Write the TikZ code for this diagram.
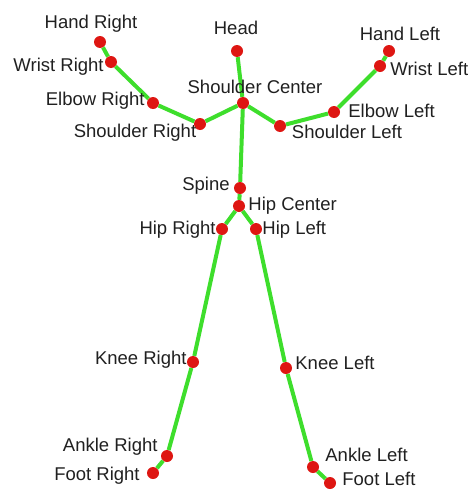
\documentclass[tikz,border=0pt]{standalone}
\usepackage{fontspec}
\setmainfont{Liberation Sans}
\usepackage{xcolor}
\usepackage{tikz}
\usetikzlibrary{positioning}

\definecolor{bonegreen}{RGB}{62,222,44}
\definecolor{jointred}{RGB}{222,22,18}
\definecolor{lblgray}{RGB}{32,32,32}

\begin{document}
\begin{tikzpicture}[x=1pt, y=-1pt,
    joint/.style={circle, fill=jointred, inner sep=0pt, minimum size=12pt},
    bone/.style={line width=4pt, bonegreen},
    lbl/.style={font=\fontsize{18.5}{18.5}\selectfont, text=lblgray, inner sep=0pt,
                text height=0.75em, text depth=0.25em}]
    \useasboundingbox (0,0) rectangle (472,490);

    % Joints
    \node[joint] (hd)  at (237,51)  {};
    \node[joint] (sc)  at (243,103) {};
    \node[joint] (sr)  at (200,124) {};
    \node[joint] (er)  at (153,103) {};
    \node[joint] (wr)  at (111,62)  {};
    \node[joint] (hr)  at (100,42)  {};
    \node[joint] (sl)  at (280,126) {};
    \node[joint] (el)  at (334,112) {};
    \node[joint] (wl)  at (380,66)  {};
    \node[joint] (hl)  at (389,51)  {};
    \node[joint] (sp)  at (240,188) {};
    \node[joint] (hc)  at (239,206) {};
    \node[joint] (hpr) at (222,229) {};
    \node[joint] (hpl) at (256,229) {};
    \node[joint] (kr)  at (193,362) {};
    \node[joint] (ar)  at (167,456) {};
    \node[joint] (fr)  at (153,473) {};
    \node[joint] (kl)  at (286,368) {};
    \node[joint] (al)  at (313,467) {};
    \node[joint] (fl)  at (330,483) {};

    % Bones
    \foreach \a/\b in {hd/sc, sc/sr, sr/er, er/wr, wr/hr, sc/sl, sl/el, el/wl, wl/hl,
                       sc/sp, sp/hc, hc/hpr, hpr/kr, kr/ar, ar/fr, hc/hpl, hpl/kl, kl/al, al/fl}
        \draw[bone] (\a) -- (\b);

    % Labels
    \node[lbl, above=4.5pt of hr, xshift=-9pt] (hrlbl) {Hand Right};
    \node[lbl, left=1pt of wr, yshift=-6.5pt] (wrlbl) {Wrist Right};
    \node[lbl, left=2pt of er, yshift=0.5pt] (erlbl) {Elbow Right};
    \node[lbl, below=-0.5pt of sr, xshift=-65pt] (srlbl) {Shoulder Right};
    \node[lbl, above=7.5pt of hd, xshift=-1pt] (hdlbl) {Head};
    \node[lbl, above=0.5pt of sc, xshift=12pt] (sclbl) {Shoulder Center};
    \node[lbl, below=-1.5pt of sl, xshift=67pt] (sllbl) {Shoulder Left};
    \node[lbl, right=8pt of el, yshift=-2.5pt] (ellbl) {Elbow Left};
    \node[lbl, right=4pt of wl, yshift=-6.5pt] (wllbl) {Wrist Left};
    \node[lbl, above=1.5pt of hl, xshift=11pt] (hllbl) {Hand Left};
    \node[lbl, left=4pt of sp] (splbl) {Spine};
    \node[lbl, right=3pt of hc, yshift=-1.5pt] (hclbl) {Hip Center};
    \node[lbl, left=0pt of hpr, yshift=-2.5pt] (hprlbl) {Hip Right};
    \node[lbl, right=0pt of hpl, yshift=-2.5pt] (hpllbl) {Hip Left};
    \node[lbl, left=0pt of kr] (krlbl) {Knee Right};
    \node[lbl, right=3pt of kl, yshift=1.5pt] (kllbl) {Knee Left};
    \node[lbl, left=3pt of ar, yshift=7.5pt] (arlbl) {Ankle Right};
    \node[lbl, left=7pt of fr, yshift=-4.5pt] (frlbl) {Foot Right};
    \node[lbl, right=6pt of al, yshift=8.5pt] (allbl) {Ankle Left};
    \node[lbl, right=6pt of fl, yshift=0.5pt] (fllbl) {Foot Left};
\end{tikzpicture}
\end{document}
